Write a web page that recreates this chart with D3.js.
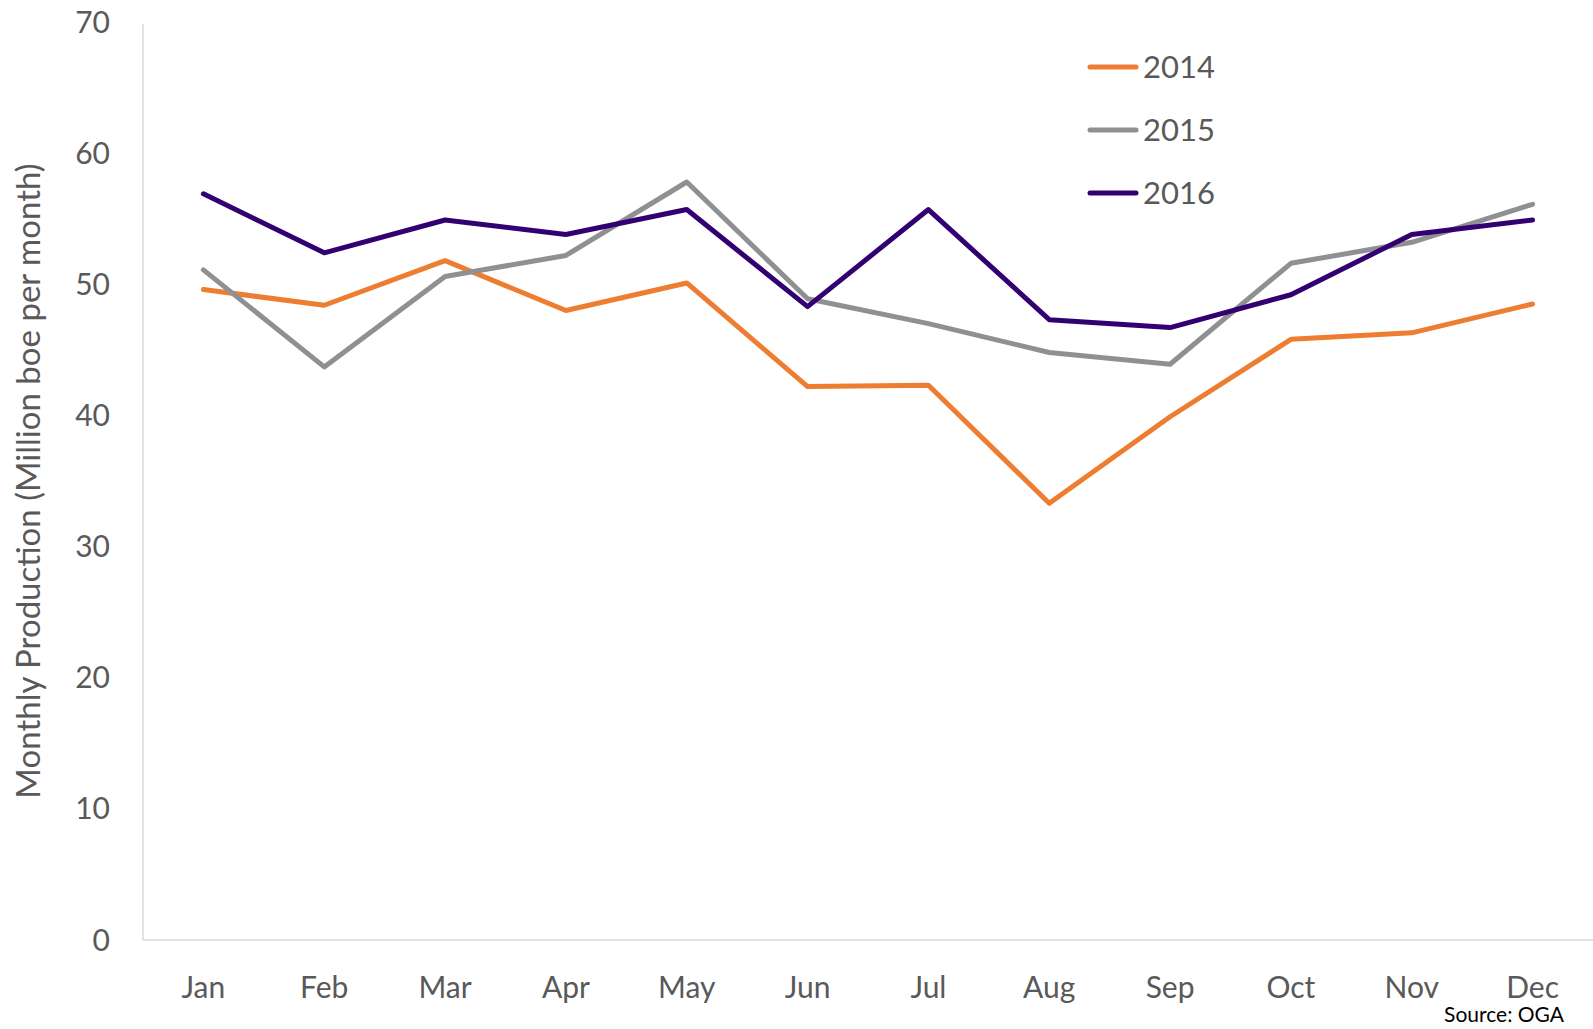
<!DOCTYPE html>
<html lang="en">
<head>
    <meta charset="UTF-8">
    <title>Monthly Production 2014-2016</title>
    <script src="https://d3js.org/d3.v7.min.js"></script>
    <style>
        body {
            margin: 0;
            background: white;
            font-family: "Lato", sans-serif;
        }
        svg {
            display: block;
        }
        .tick-label {
            fill: #595959;
            font-size: 30px;
        }
    </style>
</head>
<body>
    <svg width="1593" height="1029"></svg>

    <script>
        const months = ["Jan", "Feb", "Mar", "Apr", "May", "Jun", "Jul", "Aug", "Sep", "Oct", "Nov", "Dec"];
        const years = ["2014", "2015", "2016"];
        const colors = ["#ED7D31", "#8E9093", "#330072"];

        // million boe per month
        const prod2014 = [49.6, 48.4, 51.8, 48.0, 50.1, 42.2, 42.3, 33.3, 39.9, 45.8, 46.3, 48.5];
        const prod2015 = [51.1, 43.7, 50.6, 52.2, 57.8, 48.9, 47.0, 44.8, 43.9, 51.6, 53.2, 56.1];
        const prod2016 = [56.9, 52.4, 54.9, 53.8, 55.7, 48.3, 55.7, 47.3, 46.7, 49.2, 53.8, 54.9];
        const yTicks = [0, 10, 20, 30, 40, 50, 60, 70];

        const series = [prod2014, prod2015, prod2016];

        const svg = d3.select("svg");
        const plotLeft = 143, plotRight = 1593, plotTop = 22, plotBottom = 940;

        const x = d3.scalePoint()
            .domain(months)
            .range([plotLeft, plotRight])
            .padding(0.5);

        const y = d3.scaleLinear()
            .domain([0, 70])
            .range([plotBottom, plotTop]);

        // axis lines
        svg.append("line")
            .attr("x1", plotLeft).attr("x2", plotLeft)
            .attr("y1", y(70) + 2).attr("y2", plotBottom)
            .attr("stroke", "#d9d9d9").attr("stroke-width", 1.5);
        svg.append("line")
            .attr("x1", plotLeft).attr("x2", plotRight)
            .attr("y1", plotBottom).attr("y2", plotBottom)
            .attr("stroke", "#d9d9d9").attr("stroke-width", 1.5);

        // y tick labels
        svg.append("g")
            .selectAll("text")
            .data(yTicks)
            .join("text")
            .attr("class", "tick-label")
            .attr("x", 110)
            .attr("y", d => y(d))
            .attr("dy", "0.35em")
            .attr("text-anchor", "end")
            .text(d => d);

        // x tick labels
        svg.append("g")
            .selectAll("text")
            .data(months)
            .join("text")
            .attr("class", "tick-label")
            .attr("x", d => x(d))
            .attr("y", 987)
            .attr("dy", "0.35em")
            .attr("text-anchor", "middle")
            .text(d => d);

        // y axis title
        svg.append("text")
            .attr("transform", `translate(28,${(plotTop + plotBottom) / 2}) rotate(-90)`)
            .attr("dy", "0.35em")
            .attr("text-anchor", "middle")
            .attr("fill", "#595959")
            .style("font-size", "33px")
            .text("Monthly Production (Million boe per month)");

        const line = d3.line()
            .x((d, i) => x(months[i]))
            .y(d => y(d));

        svg.append("g")
            .selectAll("path")
            .data(series)
            .join("path")
            .attr("fill", "none")
            .attr("stroke", (d, i) => colors[i])
            .attr("stroke-width", 5)
            .attr("stroke-linejoin", "round")
            .attr("stroke-linecap", "round")
            .attr("d", line);

        // legend
        const legend = svg.append("g")
            .selectAll("g")
            .data(years)
            .join("g")
            .attr("transform", (d, i) => `translate(1090,${67 + i * 63})`);

        legend.append("line")
            .attr("x1", 0).attr("x2", 46)
            .attr("stroke", (d, i) => colors[i])
            .attr("stroke-width", 5)
            .attr("stroke-linecap", "round");

        legend.append("text")
            .attr("x", 53)
            .attr("dy", "0.35em")
            .attr("fill", "#595959")
            .style("font-size", "31px")
            .text(d => d);

        // source note
        svg.append("text")
            .attr("x", 1564)
            .attr("y", 1015)
            .attr("dy", "0.35em")
            .attr("text-anchor", "end")
            .attr("fill", "#000")
            .style("font-size", "21px")
            .text("Source: OGA");
    </script>
</body>
</html>
